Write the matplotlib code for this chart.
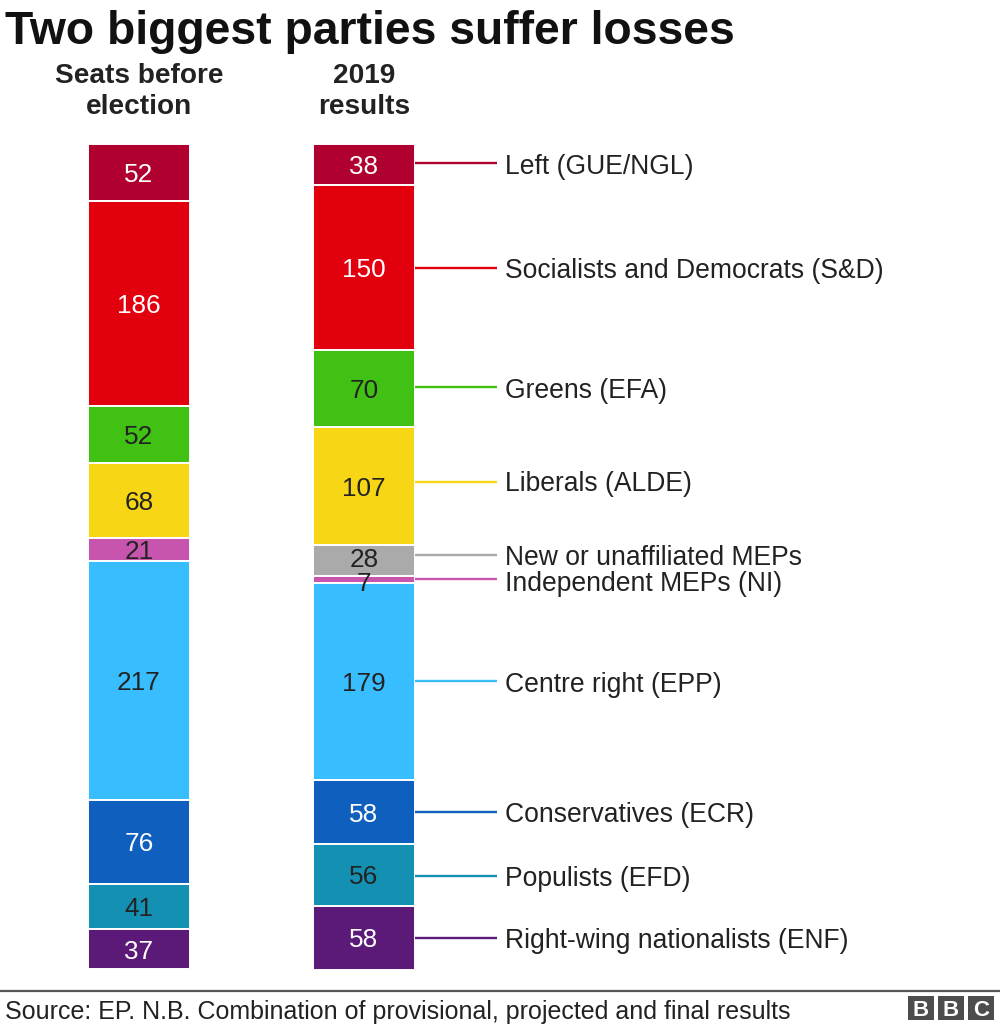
"""Stacked seats before the election vs 2019 results, BBC style."""
import matplotlib
matplotlib.use("Agg")
import matplotlib.pyplot as plt
from matplotlib.patches import Rectangle

plt.rcParams["font.family"] = ["Liberation Sans", "DejaVu Sans"]

W, H = 1000, 1024
TEXT = "#222222"

columns = ["Seats before\nelection", "2019\nresults"]

before_parties = ["Left", "S&D", "Greens", "Liberals", "NI", "EPP", "ECR", "EFD", "ENF"]
before_seats = [52, 186, 52, 68, 21, 217, 76, 41, 37]

after_parties = ["Left", "S&D", "Greens", "Liberals", "New", "NI", "EPP", "ECR", "EFD", "ENF"]
after_seats = [38, 150, 70, 107, 28, 7, 179, 58, 56, 58]
after_labels = [
    "Left (GUE/NGL)", "Socialists and Democrats (S&D)", "Greens (EFA)",
    "Liberals (ALDE)", "New or unaffiliated MEPs", "Independent MEPs (NI)",
    "Centre right (EPP)", "Conservatives (ECR)", "Populists (EFD)",
    "Right-wing nationalists (ENF)",
]

colours = {
    "Left": "#AF0030", "S&D": "#E2000F", "Greens": "#42C115", "Liberals": "#F7D615",
    "New": "#AAAAAA", "NI": "#C755AE", "EPP": "#38BDFF", "ECR": "#0F5FBF",
    "EFD": "#1491B2", "ENF": "#5B1A78",
}
white_text = {"Left", "S&D", "ECR", "ENF"}

# hand-placed offsets in the original, pixels from the segment centre
line_nudge = {"Left": -1, "Greens": -2, "Liberals": -4, "New": -5, "NI": -1, "EPP": -1, "EFD": 1}
text_nudge = {"Greens": -1, "Liberals": -5, "New": -5, "NI": 1, "ECR": 0, "EFD": 1, "ENF": 0}
number_nudge = {"New": -3, "NI": 2}

TOP, BOTTOM = 143.5, 969.5


def stack(x, parties, seats, nudges=None):
    """Draw one column on its own axes, stretched to the full height; return centres in pixels."""
    ax = fig.add_axes([0, (H - BOTTOM) / H, 1, (BOTTOM - TOP) / H], facecolor="none")
    ax.set_xlim(-139 / 225, (W - 139) / 225)
    ax.set_ylim(sum(seats), 0)
    ax.axis("off")
    scale = (BOTTOM - TOP) / sum(seats)
    centres = []
    bottom = 0
    for party, n in zip(parties, seats):
        ax.bar(x, n, width=101.5 / 225, bottom=bottom, color=colours[party],
               edgecolor="white", linewidth=1.4)
        centre = bottom + n / 2
        centres.append(TOP + centre * scale)
        shift = (nudges or {}).get(party, 0) / scale
        ax.text(x, centre + shift, str(n), ha="center", va="center_baseline", fontsize=18.8,
                color="white" if party in white_text else TEXT)
        bottom += n
    return centres


fig = plt.figure(figsize=(W / 100, H / 100), dpi=100)

stack(0, before_parties, before_seats)
centres = stack(1, after_parties, after_seats, number_nudge)

# leader lines and party names, in pixels from here on
over = fig.add_axes([0, 0, 1, 1], facecolor="none")
over.set_xlim(0, W)
over.set_ylim(H, 0)
over.axis("off")

for label, party, y in zip(after_labels, after_parties, centres):
    line_y = y + line_nudge.get(party, 0)
    over.plot([415, 497], [line_y, line_y], color=colours[party], lw=1.7, solid_capstyle="butt")
    over.text(505, y + text_nudge.get(party, 0), label, ha="left", va="center_baseline",
              fontsize=19.1, color=TEXT)

over.text(5, 27, "Two biggest parties suffer losses", ha="left", va="center_baseline",
          fontsize=33.3, fontweight="bold", color="#111111")
for cx, name in zip((139, 364), columns):
    over.text(cx, 91.5, name, ha="center", va="center", fontsize=20.2, fontweight="bold",
              color=TEXT, linespacing=1.21)

# footer
over.plot([0, W], [990.5, 990.5], color="#555555", lw=1.6)
over.text(5, 1009, "Source: EP. N.B. Combination of provisional, projected and final results",
          ha="left", va="center_baseline", fontsize=18, color=TEXT)
for x0, letter in zip((908, 938, 968), "BBC"):
    over.add_patch(Rectangle((x0, 996), 26, 23.5, facecolor="#4D4D4D", edgecolor="none"))
    over.text(x0 + 13, 1008, letter, ha="center", va="center_baseline", fontsize=16,
              color="white", fontweight="bold")

fig.savefig("out.png", dpi=100)
